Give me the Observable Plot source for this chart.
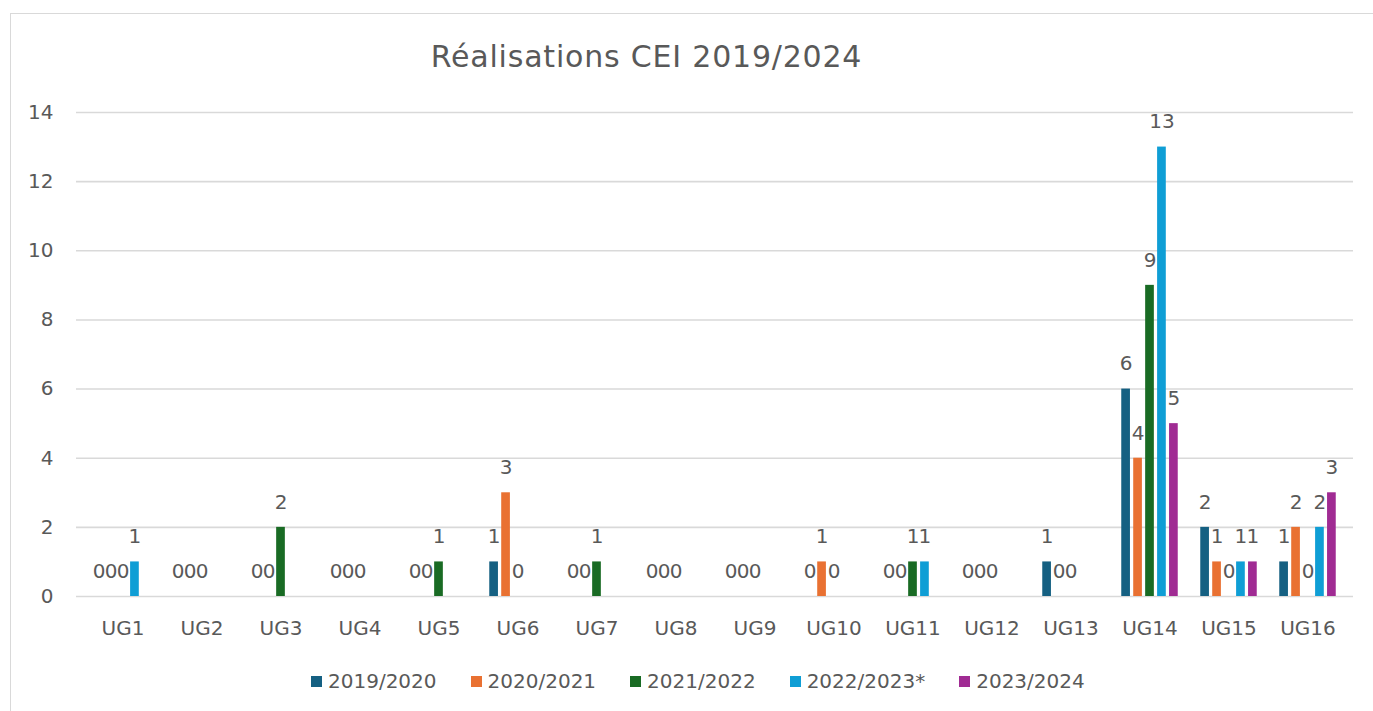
<!DOCTYPE html>
<html>
<head>
<meta charset="utf-8">
<script src="https://cdn.jsdelivr.net/npm/d3@7"></script>
<script src="https://cdn.jsdelivr.net/npm/@observablehq/plot@0.6"></script>
<style>
  html, body { margin: 0; padding: 0; background: #fff; width: 1373px; height: 711px; overflow: hidden; }
  body { position: relative; font-family: "DejaVu Sans", sans-serif; color: #595959; }
  #frame { position: absolute; left: 10px; top: 13px; width: 1400px; height: 760px; border: 1.5px solid #d9d9d9; box-sizing: border-box; }
  #title { position: absolute; left: 0; top: 42px; width: 1293px; text-align: center; font-size: 30px; line-height: 30px; letter-spacing: 0.8px; color: #595959; }
  #chart { position: absolute; left: 0; top: 90px; }
  #legend { position: absolute; left: 311px; top: 671px; display: flex; gap: 34px; font-size: 20px; line-height: 20px; color: #595959; }
  .item { display: flex; align-items: center; gap: 6px; }
  .sw { width: 11px; height: 11px; display: inline-block; }
</style>
</head>
<body>
<div id="frame"></div>
<div id="title">Réalisations CEI 2019/2024</div>
<div id="chart"></div>
<div id="legend"></div>
<script>
const categories = ["UG1","UG2","UG3","UG4","UG5","UG6","UG7","UG8","UG9","UG10","UG11","UG12","UG13","UG14","UG15","UG16"];
const seriesNames = ["2019/2020","2020/2021","2021/2022","2022/2023*","2023/2024"];
const colors = ["#156082","#E97132","#196B24","#0F9ED5","#A02B93"];
const v2019_2020 = [0,0,0,0,0,1,0,0,0,0,0,0,1,6,2,1];
const v2020_2021 = [0,0,0,0,0,3,0,0,0,1,0,0,0,4,1,2];
const v2021_2022 = [0,0,2,0,1,0,1,0,0,0,1,0,0,9,0,0];
const v2022_2023 = [1,null,null,null,null,null,null,null,null,null,1,null,null,13,1,2];
const v2023_2024 = [null,null,null,null,null,null,null,null,null,null,null,null,null,5,1,3];
const yTicks = [0,2,4,6,8,10,12,14];

const seriesValues = [v2019_2020, v2020_2021, v2021_2022, v2022_2023, v2023_2024];
const bySeries = seriesNames.map((s, si) =>
  categories.map((c, ci) => ({cat: c, series: s, value: seriesValues[si][ci]}))
    .filter(d => d.value !== null && d.value !== undefined));

// layout of the clustered bars inside each category band
const W = 1373, mL = 76, mR = 20;
const band = (W - mL - mR) / categories.length;
const step = 11.95, barW = 9.5;
const n = seriesNames.length;

const marks = [
  Plot.gridY(yTicks, {stroke: "#d9d9d9", strokeOpacity: 1, strokeWidth: 1.6}),
  Plot.axisY(yTicks, {tickSize: 0, tickPadding: 23, fontSize: 20, fill: "#595959", label: null}),
  Plot.axisX({anchor: "bottom", tickSize: 0, tickPadding: 24, fontSize: 20, fill: "#595959", label: null})
];
bySeries.forEach((rows, i) => {
  const off = (i - (n - 1) / 2) * step;
  const insetLeft = band / 2 + off - barW / 2;
  const insetRight = band - insetLeft - barW;
  marks.push(Plot.barY(rows, {x: "cat", y: "value", fill: colors[i], insetLeft, insetRight}));
  marks.push(Plot.text(rows, {x: "cat", y: "value", text: d => String(d.value), dx: off, dy: -25, fontSize: 20, fill: "#595959"}));
});

const chart = Plot.plot({
  width: W,
  height: 556,
  marginLeft: mL,
  marginRight: mR,
  marginTop: 22,
  marginBottom: 50,
  style: {fontFamily: "DejaVu Sans, sans-serif", fontSize: "20px", color: "#595959", background: "transparent"},
  x: {domain: categories, padding: 0, label: null},
  y: {domain: [0, 14], label: null},
  marks
});
document.getElementById("chart").appendChild(chart);

const legend = document.getElementById("legend");
seriesNames.forEach((s, i) => {
  const item = document.createElement("div");
  item.className = "item";
  const sw = document.createElement("span");
  sw.className = "sw";
  sw.style.background = colors[i];
  const t = document.createElement("span");
  t.textContent = s;
  item.appendChild(sw);
  item.appendChild(t);
  legend.appendChild(item);
});
</script>
</body>
</html>
